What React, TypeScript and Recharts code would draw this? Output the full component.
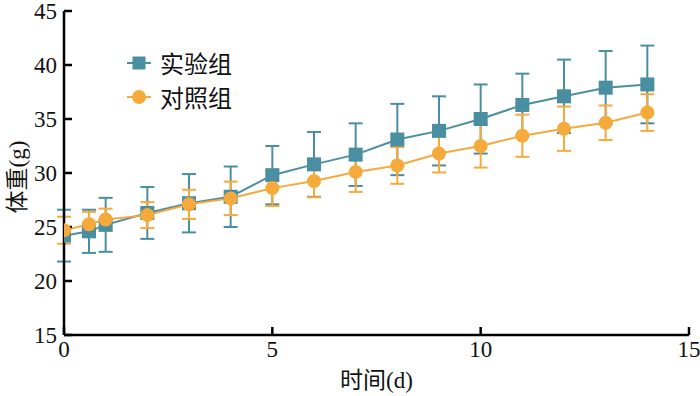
import React from "react"
import {
  ComposedChart,
  Line,
  XAxis,
  YAxis,
  ErrorBar,
  Label,
} from "recharts"

const days = [0, 0.6, 1, 2, 3, 4, 5, 6, 7, 8, 9, 10, 11, 12, 13, 14]
const expMean = [24.2, 24.6, 25.2, 26.3, 27.2, 27.8, 29.8, 30.8, 31.7, 33.1, 33.9, 35.0, 36.3, 37.1, 37.9, 38.2]
const expSd = [2.4, 2.0, 2.5, 2.4, 2.7, 2.8, 2.7, 3.0, 2.9, 3.3, 3.2, 3.2, 2.9, 3.4, 3.4, 3.6]
const ctrlMean = [24.7, 25.25, 25.7, 26.1, 27.1, 27.65, 28.6, 29.25, 30.1, 30.7, 31.8, 32.5, 33.45, 34.1, 34.65, 35.6]
const ctrlSd = [1.25, 1.15, 1.0, 1.2, 1.35, 1.55, 1.65, 1.5, 1.85, 1.7, 1.75, 2.0, 1.95, 2.05, 1.6, 1.7]

const xTicks = [0, 5, 10, 15]
const yTicks = [15, 20, 25, 30, 35, 40, 45]

const TEAL = "#4a8fa1"
const ORANGE = "#f6aa3c"
const FONT = "Liberation Serif, DejaVu Serif, serif"
const CJK = "Noto Sans CJK SC, sans-serif"

const expData = days.map((d, i) => ({ x: d, y: expMean[i], err: expSd[i] }))
const ctrlData = days.map((d, i) => ({ x: d, y: ctrlMean[i], err: ctrlSd[i] }))

const legendItems = [
  { name: "实验组", color: TEAL, shape: "square" },
  { name: "对照组", color: ORANGE, shape: "circle" },
]

// square marker for the experimental group
const SquareDot = (props: any) => {
  const { cx, cy, index } = props
  if (cx == null || cy == null) return <g key={`sq-${index}`} />
  return <rect key={`sq-${index}`} x={cx - 7} y={cy - 7} width={14} height={14} fill={TEAL} />
}

const ChartLegend = () => (
  <div style={{ position: "absolute", left: 126, top: 46, fontSize: 24, color: "#111" }}>
    {legendItems.map((item) => (
      <div key={item.name} style={{ display: "flex", alignItems: "center", height: 34 }}>
        <svg width={30} height={20} style={{ marginRight: 4 }}>
          <line x1={1} y1={10} x2={25} y2={10} stroke={item.color} strokeWidth={2} />
          {item.shape === "square" ? (
            <rect x={6.5} y={3.5} width={13} height={13} fill={item.color} />
          ) : (
            <circle cx={13} cy={10} r={7} fill={item.color} />
          )}
        </svg>
        <span style={{ fontFamily: CJK, lineHeight: "24px" }}>{item.name}</span>
      </div>
    ))}
  </div>
)

const SerifTick = (props: any) => {
  const { x, y, payload, textAnchor, verticalAnchor } = props
  const dy = verticalAnchor === "start" ? "0.75em" : "0.35em"
  return (
    <text x={x} y={y} dy={dy} textAnchor={textAnchor} style={{ fill: "#111", fontSize: 23, fontFamily: FONT }}>
      {payload.value}
    </text>
  )
}

export default function App() {
  return (
    <div style={{ position: "absolute", left: 0, top: 0, width: 700, height: 396, background: "#fff", fontFamily: FONT }}>
      <ComposedChart
        width={700}
        height={396}
        margin={{ top: 11, right: 11, bottom: 8, left: 0 }}
        style={{ fontFamily: FONT }}
      >
        <XAxis
          type="number"
          dataKey="x"
          domain={[0, 15]}
          ticks={xTicks}
          interval={0}
          allowDataOverflow
          height={53}
          tickSize={-8}
          tickMargin={13}
          axisLine={{ stroke: "#000", strokeWidth: 2.5 }}
          tickLine={{ stroke: "#000", strokeWidth: 2.5 }}
          tick={<SerifTick />}
        >
          <Label
            content={(props: any) => {
              const vb = props.viewBox
              const cx = vb.x + vb.width / 2
              const cy = vb.y + vb.height
              return (
                <text x={cx} y={cy} textAnchor="middle" style={{ fill: "#111", fontSize: 23, fontFamily: FONT }}>
                  <tspan style={{ fontFamily: CJK }}>时间</tspan>
                  <tspan>(d)</tspan>
                </text>
              )
            }}
          />
        </XAxis>
        <YAxis
          type="number"
          domain={[15, 45]}
          ticks={yTicks}
          interval={0}
          allowDataOverflow
          width={64}
          tickSize={-8}
          tickMargin={15}
          axisLine={{ stroke: "#000", strokeWidth: 2.5 }}
          tickLine={{ stroke: "#000", strokeWidth: 2.5 }}
          tick={<SerifTick />}
        >
          <Label
            content={(props: any) => {
              const vb = props.viewBox
              const cx = vb.x + 17
              const cy = vb.y + vb.height / 2 + 4
              return (
                <text
                  x={cx}
                  y={cy}
                  dy="0.35em"
                  transform={`rotate(-90, ${cx}, ${cy})`}
                  textAnchor="middle"
                  style={{ fill: "#111", fontSize: 23, fontFamily: FONT }}
                >
                  <tspan style={{ fontFamily: CJK }}>体重</tspan>
                  <tspan>(g)</tspan>
                </text>
              )
            }}
          />
        </YAxis>
        <Line
          data={expData}
          dataKey="y"
          name="实验组"
          stroke={TEAL}
          strokeWidth={2}
          dot={SquareDot}
          activeDot={false}
          isAnimationActive={false}
        >
          <ErrorBar dataKey="err" direction="y" width={7} stroke={TEAL} strokeWidth={2} />
        </Line>
        <Line
          data={ctrlData}
          dataKey="y"
          name="对照组"
          stroke={ORANGE}
          strokeWidth={2}
          dot={{ r: 7, fill: ORANGE, stroke: "none" }}
          activeDot={false}
          isAnimationActive={false}
        >
          <ErrorBar dataKey="err" direction="y" width={7} stroke={ORANGE} strokeWidth={2} />
        </Line>
      </ComposedChart>
      <ChartLegend />
    </div>
  )
}
